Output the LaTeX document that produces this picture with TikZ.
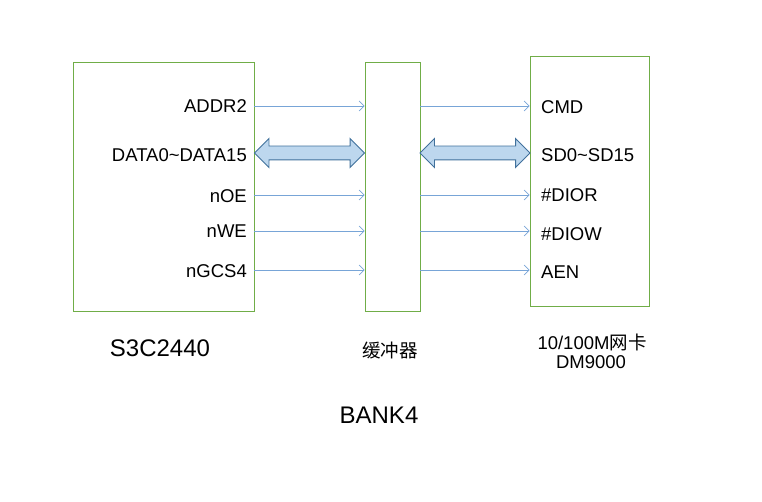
\documentclass[tikz,border=0pt]{standalone}
\usepackage{fontspec}
\setmainfont{Liberation Sans}
\newfontfamily\cjk{Noto Sans CJK SC}
\usetikzlibrary{arrows.meta,shapes.arrows,calc}
\definecolor{boxgreen}{RGB}{112,173,71}
\definecolor{sigblue}{RGB}{120,165,215}
\definecolor{busfill}{RGB}{189,215,238}
\definecolor{busline}{RGB}{65,113,156}

\begin{document}
\begin{tikzpicture}[x=1pt,y=-1pt,>={Straight Barb[length=5pt,width=10pt]}]
      \tikzstyle{chip}=[draw=boxgreen,line width=0.8pt,inner sep=0pt];
      \tikzstyle{sig}=[->,draw=sigblue,line width=0.7pt];
      \tikzstyle{bus}=[double arrow,draw=busline,fill=busfill,line width=0.9pt,
        minimum height=110pt,double arrow head extend=7.5pt,inner sep=6.5pt];
      \tikzstyle{lbl}=[font=\fontsize{18.5}{21}\selectfont,inner sep=0pt];
      \tikzstyle{title}=[font=\fontsize{24}{27}\selectfont,inner sep=0pt];
        \useasboundingbox (0,0) rectangle (762,502);

        % boxes
        \path (163.5,186.5) node[chip,minimum width=181pt,minimum height=249pt] (cpu) {};
        \path (392.5,186.5) node[chip,minimum width=55pt,minimum height=249pt] (buf) {};
        \path (589.5,181)   node[chip,minimum width=119pt,minimum height=250pt] (nic) {};

        % signal rows
        \coordinate (r1) at (0,106);
        \coordinate (r2) at (0,153);
        \coordinate (r3) at (0,195);
        \coordinate (r4) at (0,231);
        \coordinate (r5) at (0,270);

        \path[sig] (cpu.east |- r1) -- (buf.west |- r1);
        \path[sig] (cpu.east |- r3) -- (buf.west |- r3);
        \path[sig] (cpu.east |- r4) -- (buf.west |- r4);
        \path[sig] (cpu.east |- r5) -- (buf.west |- r5);
        \path[sig] (buf.east |- r1) -- (nic.west |- r1);
        \path[sig] (buf.east |- r3) -- (nic.west |- r3);
        \path[sig] (buf.east |- r4) -- (nic.west |- r4);
        \path[sig] (buf.east |- r5) -- (nic.west |- r5);

        \path ($(cpu.east |- r2)!0.5!(buf.west |- r2)$) node[bus] (busl) {};
        \path ($(buf.east |- r2)!0.5!(nic.west |- r2)$) node[bus] (busr) {};

        % pin names
        \path (247,106) node[lbl,anchor=east] (addr) {ADDR2};
        \path (247,155) node[lbl,anchor=east] (data) {DATA0\char`~DATA15};
        \path (247,196) node[lbl,anchor=east] (noe) {nOE};
        \path (247,231) node[lbl,anchor=east] (nwe) {nWE};
        \path (247,271) node[lbl,anchor=east] (ngcs) {nGCS4};
        \path (541,107) node[lbl,anchor=west] (cmd) {CMD};
        \path (541,155) node[lbl,anchor=west] (sd) {SD0\char`~SD15};
        \path (541,195) node[lbl,anchor=west] (dior) {\#DIOR};
        \path (541,234) node[lbl,anchor=west] (diow) {\#DIOW};
        \path (541,272) node[lbl,anchor=west] (aen) {AEN};

        % captions
        \path (160,348) node[title] (cpuname) {S3C2440};
        \path (390,351) node[lbl] (bufname) {\cjk 缓冲器};
        \path (592,342) node[lbl] (nicname) {10/100M{\cjk 网卡}};
        \path (591,362) node[lbl] (nicchip) {DM9000};
        \path (379,415) node[title] (bank) {BANK4};
    \end{tikzpicture}
\end{document}
